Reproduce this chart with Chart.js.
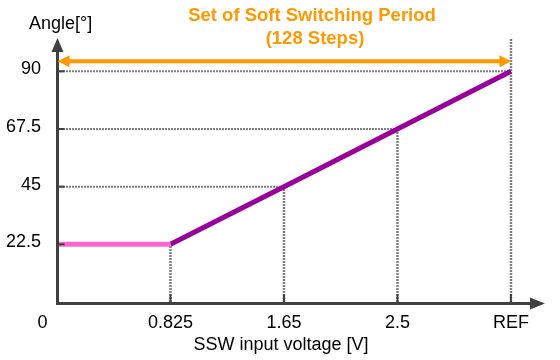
<!DOCTYPE html>
<html>
<head>
<meta charset="utf-8">
<script src="https://cdn.jsdelivr.net/npm/chart.js@4.4.1/dist/chart.umd.min.js"></script>
<style>
  html, body { margin: 0; padding: 0; background: #ffffff; }
  canvas { display: block; }
</style>
</head>
<body>
<canvas id="chart" width="560" height="360"></canvas>
<script>
// Soft-switching angle versus SSW input voltage
const xTickLabels = ['0', '0.825', '1.65', '2.5', 'REF'];
const yTickValues = [22.5, 45, 67.5, 90];
// Fixed angle below the 0.825 V threshold (positions 0..1 on the voltage axis)
const fixedPositions = [0, 1];
const fixedAngles = [22.5, 22.5];
// Linear ramp from 0.825 V up to REF (positions 1..4 on the voltage axis)
const rampPositions = [1, 2, 3, 4];
const rampAngles = [22.5, 45, 67.5, 90];

const titleLines = ['Set of Soft Switching Period', '(128 Steps)'];
const yAxisTitle = 'Angle[°]';
const xAxisTitle = 'SSW input voltage [V]';

const FONT = '"Liberation Sans", Arial, sans-serif';
const AXIS_COLOR = '#404040';
const GUIDE_COLOR = '#7f7f7f';
const ORANGE = '#FF9900';

const toPoints = (xs, ys) => xs.map((x, i) => ({ x: x, y: ys[i] }));

function arrowHead(ctx, tipX, tipY, dirX, dirY, len, half) {
  const bx = tipX - dirX * len, by = tipY - dirY * len;
  const px = -dirY, py = dirX;
  ctx.beginPath();
  ctx.moveTo(tipX, tipY);
  ctx.lineTo(bx + px * half, by + py * half);
  ctx.lineTo(bx - px * half, by - py * half);
  ctx.closePath();
  ctx.fill();
}

const decor = {
  id: 'decor',
  beforeDatasetsDraw(chart) {
    const { ctx, chartArea, scales } = chart;
    const xs = scales.x, ys = scales.y;
    const x0 = xs.getPixelForValue(0), y0 = ys.getPixelForValue(0);
    ctx.save();
    ctx.strokeStyle = GUIDE_COLOR;
    ctx.setLineDash([2, 1]);
    rampPositions.forEach((p, i) => {
      const px = xs.getPixelForValue(p);
      const py = ys.getPixelForValue(rampAngles[i]);
      const last = i === rampPositions.length - 1;
      // vertical guide from the voltage axis up to the curve (REF runs full height)
      ctx.lineWidth = 2.5;
      ctx.beginPath();
      ctx.moveTo(px, y0);
      ctx.lineTo(px, last ? chartArea.top : py);
      ctx.stroke();
      // horizontal guide from the angle axis across to the curve
      if (i > 0) {
        ctx.lineWidth = 2;
        ctx.beginPath();
        ctx.moveTo(x0, py);
        ctx.lineTo(px, py);
        ctx.stroke();
      }
    });
    ctx.restore();
  },
  afterDatasetsDraw(chart) {
    const { ctx, chartArea, scales } = chart;
    const xs = scales.x, ys = scales.y;
    const x0 = xs.getPixelForValue(0) + 0.5;
    const y0 = ys.getPixelForValue(0);
    ctx.save();

    // axes with arrowheads
    ctx.strokeStyle = AXIS_COLOR;
    ctx.fillStyle = AXIS_COLOR;
    ctx.lineWidth = 3;
    ctx.beginPath();
    ctx.moveTo(x0, chartArea.top + 12);
    ctx.lineTo(x0, y0 + 1.5);
    ctx.lineTo(chartArea.right - 14, y0 + 1.5);
    ctx.stroke();
    arrowHead(ctx, x0, chartArea.top, 0, -1, 14, 6);
    arrowHead(ctx, chartArea.right, y0 + 1.5, 1, 0, 15, 6);

    // short tick marks
    ctx.lineWidth = 2;
    rampPositions.forEach(p => {
      const px = xs.getPixelForValue(p);
      ctx.beginPath();
      ctx.moveTo(px, y0 - 8);
      ctx.lineTo(px, y0);
      ctx.stroke();
    });
    yTickValues.forEach(v => {
      const py = ys.getPixelForValue(v);
      ctx.beginPath();
      ctx.moveTo(x0, py);
      ctx.lineTo(x0 + 7, py);
      ctx.stroke();
    });

    // soft-switching period span (double-headed arrow)
    const spanY = ys.getPixelForValue(yTickValues[yTickValues.length - 1]) - 10;
    const spanL = x0, spanR = xs.getPixelForValue(rampPositions[rampPositions.length - 1]) + 0.5;
    ctx.strokeStyle = ORANGE;
    ctx.fillStyle = ORANGE;
    ctx.lineWidth = 4;
    ctx.beginPath();
    ctx.moveTo(spanL + 10, spanY);
    ctx.lineTo(spanR - 10, spanY);
    ctx.stroke();
    arrowHead(ctx, spanL, spanY, -1, 0, 12, 6);
    arrowHead(ctx, spanR, spanY, 1, 0, 12, 6);

    // texts
    ctx.textBaseline = 'alphabetic';
    ctx.fillStyle = ORANGE;
    ctx.font = 'bold 18.5px ' + FONT;
    ctx.textAlign = 'center';
    ctx.fillText(titleLines[0], 312, 20.5);
    ctx.fillText(titleLines[1], 315, 43.5);

    ctx.fillStyle = '#000000';
    ctx.font = '18px ' + FONT;
    ctx.textAlign = 'left';
    ctx.fillText(yAxisTitle, 29, 29);
    ctx.textAlign = 'center';
    ctx.fillText(xAxisTitle, 281, 350);
    // origin label sits left of the corner
    ctx.fillText(xTickLabels[0], x0 - 15, 328);
    ctx.restore();
  }
};

new Chart(document.getElementById('chart'), {
  type: 'line',
  data: {
    datasets: [
      {
        data: toPoints(fixedPositions, fixedAngles),
        borderColor: '#FF66CC',
        borderWidth: 5,
        pointRadius: 0,
        borderCapStyle: 'butt'
      },
      {
        data: toPoints(rampPositions, rampAngles),
        borderColor: '#990099',
        borderWidth: 5,
        pointRadius: 0,
        borderCapStyle: 'butt'
      }
    ]
  },
  options: {
    responsive: false,
    animation: false,
    events: [],
    layout: { padding: { top: 38, right: 15, left: 0, bottom: 0 } },
    plugins: { legend: { display: false }, tooltip: { enabled: false } },
    scales: {
      x: {
        type: 'linear',
        min: 0,
        max: 4.3,
        grid: { display: false },
        border: { display: false },
        afterBuildTicks(scale) {
          scale.ticks = xTickLabels.map((_, i) => ({ value: i }));
        },
        afterFit(scale) { scale.height = 58; },
        ticks: {
          padding: 2,
          color: '#000000',
          font: { family: FONT, size: 18 },
          maxRotation: 0,
          autoSkip: false,
          callback: (v) => (v === 0 ? '' : xTickLabels[v])
        }
      },
      y: {
        type: 'linear',
        min: 0,
        max: 103,
        grid: { display: false },
        border: { display: false },
        afterBuildTicks(scale) {
          scale.ticks = yTickValues.map(v => ({ value: v }));
        },
        afterFit(scale) { scale.width = 57; },
        ticks: {
          padding: 8,
          labelOffset: -2,
          color: '#000000',
          font: { family: FONT, size: 18 },
          autoSkip: false,
          callback: (v) => String(v)
        }
      }
    }
  },
  plugins: [decor]
});
</script>
</body>
</html>
